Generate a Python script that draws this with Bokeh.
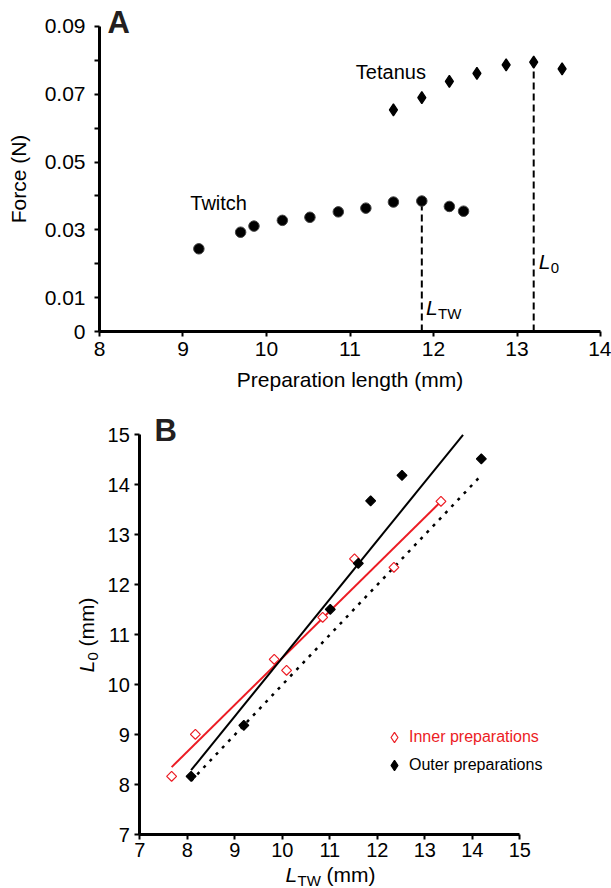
import numpy as np
from bokeh.plotting import figure
from bokeh.layouts import column
from bokeh.models import (Range1d, FixedTicker, Label, Legend, LegendItem,
                          CustomJSTickFormatter)
from bokeh.embed import file_html
from bokeh.resources import INLINE

FONT = "Liberation Sans"
RED = "#ec1c24"
INK = "#231f20"

# ---------------- Panel A data ----------------
twitch_length = [9.19, 9.69, 9.85, 10.19, 10.52, 10.86, 11.19, 11.52, 11.86, 12.19, 12.36]
twitch_force = [0.0244, 0.0293, 0.0311, 0.0328, 0.0337, 0.0353, 0.0364, 0.0382, 0.0385, 0.0369, 0.0355]
tetanus_length = [11.52, 11.86, 12.19, 12.52, 12.87, 13.20, 13.54]
tetanus_force = [0.0654, 0.0690, 0.0738, 0.0762, 0.0787, 0.0795, 0.0775]
a_x_ticks = [8, 9, 10, 11, 12, 13, 14]
a_y_major = [0, 0.01, 0.03, 0.05, 0.07, 0.09]
a_y_minor = [0.02, 0.04, 0.06, 0.08]

# ---------------- Panel B data ----------------
inner_ltw = [7.67, 8.17, 9.83, 10.09, 10.85, 11.52, 12.35, 13.34]
inner_l0 = [8.17, 9.01, 10.51, 10.29, 11.35, 12.52, 12.35, 13.67]
outer_ltw = [8.08, 9.19, 11.01, 11.60, 11.86, 12.52, 14.19]
outer_l0 = [8.17, 9.19, 11.51, 12.43, 13.68, 14.19, 14.52]
b_ticks = [7, 8, 9, 10, 11, 12, 13, 14, 15]


def style_axes(p, font_size):
    for ax in (p.xaxis[0], p.yaxis[0]):
        ax.axis_line_width = 3
        ax.axis_line_color = "black"
        ax.major_tick_line_width = 2
        ax.minor_tick_line_width = 2
        ax.major_tick_out = 5
        ax.major_tick_in = 0
        ax.minor_tick_out = 5
        ax.minor_tick_in = 0
        ax.major_label_text_font = FONT
        ax.major_label_text_font_size = font_size
        ax.major_label_text_color = "black"
        ax.axis_label_text_font = FONT
        ax.axis_label_text_font_style = "normal"
        ax.axis_label_text_font_size = "21px"
        ax.axis_label_text_color = "black"
    p.grid.visible = False
    p.outline_line_color = None
    p.title.visible = False


def lab(p, x, y, text, size, color="black", style="normal", xo=0, yo=0, rotated=False):
    # baseline correction for the svg text placement
    k = 0.37 * size
    if rotated:
        xo -= k
    else:
        yo += k
    p.add_layout(Label(x=x, y=y, text=text, x_offset=xo, y_offset=yo,
                       angle=(np.pi / 2 if rotated else 0),
                       text_font=FONT, text_font_size=f"{size}px", text_font_style=style,
                       text_color=color, text_align="left", text_baseline="alphabetic"))


# ================= Panel A =================
pA = figure(width=611, height=395, min_border=0,
            x_range=Range1d(6.8144, 14.1317), y_range=Range1d(-0.018885, 0.097672),
            output_backend="svg", toolbar_location=None)
style_axes(pA, "21px")
pA.xaxis.fixed_location = a_y_major[0]
pA.yaxis.fixed_location = a_x_ticks[0]
pA.xaxis.bounds = (a_x_ticks[0], a_x_ticks[-1])
pA.yaxis.bounds = (a_y_major[0], a_y_major[-1])
pA.xaxis.ticker = FixedTicker(ticks=a_x_ticks, minor_ticks=[])
pA.yaxis.ticker = FixedTicker(ticks=a_y_major, minor_ticks=a_y_minor)
pA.yaxis.formatter = CustomJSTickFormatter(code="return tick == 0 ? '0' : tick.toFixed(2);")
pA.xaxis.axis_label = "Preparation length (mm)"
pA.yaxis.axis_label = "Force (N)"
pA.xaxis.major_label_standoff = 5
pA.yaxis.major_label_standoff = 9
pA.xaxis.axis_label_standoff = 9
pA.yaxis.axis_label_standoff = 12

i_tw = int(np.argmax(twitch_force))
i_te = int(np.argmax(tetanus_force))
pA.segment(x0=[twitch_length[i_tw], tetanus_length[i_te]], y0=[0, 0],
           x1=[twitch_length[i_tw], tetanus_length[i_te]],
           y1=[twitch_force[i_tw], tetanus_force[i_te]],
           line_color="black", line_width=2, line_dash="7 4")

pA.scatter(twitch_length, twitch_force, marker="circle", size=10.5,
           fill_color="black", line_color="#444444", line_width=1)
pA.scatter(tetanus_length, tetanus_force, marker="diamond", size=12,
           fill_color="black", line_color="black", line_width=1.3)

lab(pA, 8.096, 0.0878, "A", 31, INK, "bold")
lab(pA, 11.07, 0.0743, "Tetanus", 20)
lab(pA, 9.087, 0.0357, "Twitch", 20)
lab(pA, 11.91, 0.0049, "L", 21, style="italic")
lab(pA, 11.91, 0.0049, "TW", 15, xo=12, yo=-4)
lab(pA, 13.26, 0.0183, "L", 21, style="italic")
lab(pA, 13.26, 0.0183, "0", 15, xo=12, yo=-4)

# ================= Panel B =================
pB = figure(width=611, height=493, min_border=0,
            x_range=Range1d(4.0674, 16.9305), y_range=Range1d(5.926, 15.786),
            output_backend="svg", toolbar_location=None)
style_axes(pB, "20px")
pB.xaxis.fixed_location = b_ticks[0]
pB.yaxis.fixed_location = b_ticks[0]
pB.xaxis.bounds = (b_ticks[0], b_ticks[-1])
pB.yaxis.bounds = (b_ticks[0], b_ticks[-1])
pB.xaxis.ticker = FixedTicker(ticks=b_ticks, minor_ticks=[])
pB.yaxis.ticker = FixedTicker(ticks=b_ticks, minor_ticks=[])
pB.xaxis.major_label_standoff = 3
pB.yaxis.major_label_standoff = 5

xi = np.array(inner_ltw); yi = np.array(inner_l0)
xo_ = np.array(outer_ltw); yo_ = np.array(outer_l0)
ki, bi = np.polyfit(xi, yi, 1)
ko, bo = np.polyfit(xo_, yo_, 1)
xi_line = np.array([xi.min(), xi.max()])
xo_end = min(xo_.max(), (b_ticks[-1] - bo) / ko)   # stop at the top of the axis
xo_line = np.array([xo_.min(), xo_end])
xid = np.array([xo_.min(), xo_.max()])
pB.line(xid, xid, line_color="black", line_width=2.5, line_dash="3 6")
pB.line(xi_line, ki * xi_line + bi, line_color=RED, line_width=2)
pB.line(xo_line, ko * xo_line + bo, line_color="black", line_width=2)

pB.scatter(inner_ltw, inner_l0, marker="square", angle=np.pi / 4, size=7,
           fill_color="white", line_color=RED, line_width=1.2)
pB.scatter(outer_ltw, outer_l0, marker="square", angle=np.pi / 4, size=7,
           fill_color="black", line_color="black", line_width=1.2)
# legend keys (placeholders, nothing drawn in the plot)
k_in = pB.scatter(x=[np.nan], y=[np.nan], marker="diamond", size=10,
                  fill_color="white", line_color=RED, line_width=1.2)
k_out = pB.scatter(x=[np.nan], y=[np.nan], marker="diamond", size=10,
                   fill_color="black", line_color="black", line_width=1.2)


def make_legend(label, rend, color, loc):
    lg = Legend(items=[LegendItem(label=label, renderers=[rend])], location=loc,
                background_fill_alpha=0, border_line_color=None, padding=0, margin=0,
                spacing=0, glyph_width=26, glyph_height=26, label_height=26,
                label_standoff=2, label_text_font=FONT, label_text_font_size="16px",
                label_text_color=color)
    pB.add_layout(lg)


make_legend("Inner preparations", k_in, RED, (381, 138))
make_legend("Outer preparations", k_out, "black", (381, 110))

lab(pB, 7.309, 14.852, "B", 31, INK, "bold")
# x title: L_TW (mm)
lab(pB, 10.067, 6.046, "L", 21, style="italic")
lab(pB, 10.067, 6.046, "TW", 15, xo=12, yo=-4)
lab(pB, 10.067, 6.046, "(mm)", 21, xo=41)
# y title: L_0 (mm), rotated
lab(pB, 6.046, 10.246, "L", 21, style="italic", rotated=True)
lab(pB, 6.046, 10.246, "0", 15, xo=4, yo=12, rotated=True)
lab(pB, 6.046, 10.246, "(mm)", 21, yo=26, rotated=True)

layout = column(pA, pB)
open("out.html", "w").write(file_html(layout, INLINE))
